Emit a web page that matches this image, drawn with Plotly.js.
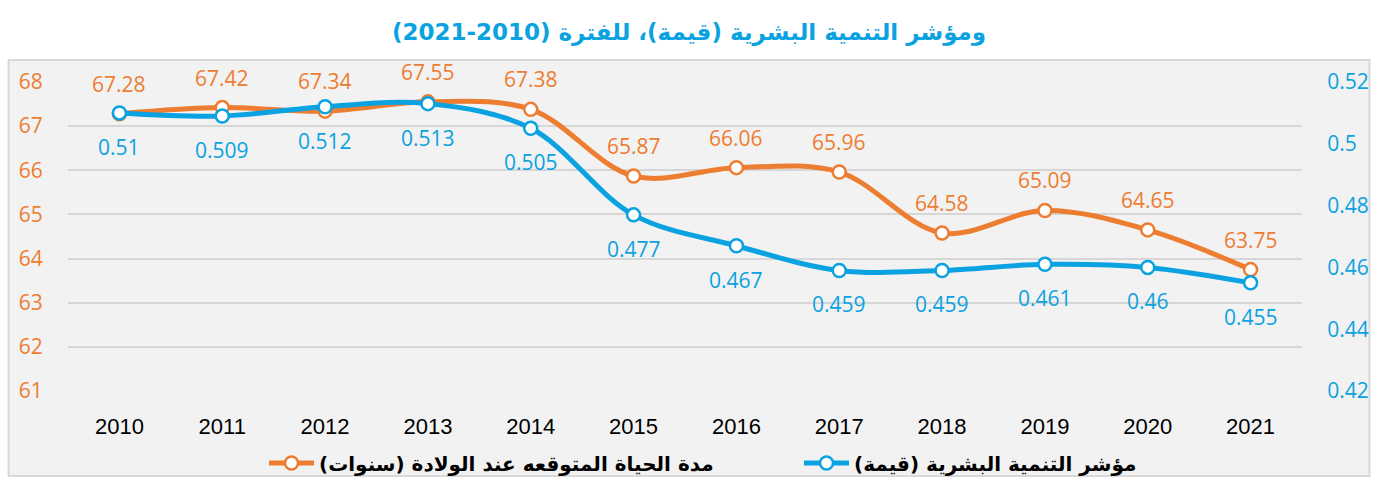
<!DOCTYPE html>
<html><head><meta charset="utf-8">
<script src="https://cdn.plot.ly/plotly-3.0.1.min.js"></script>
<style>html,body{margin:0;padding:0;background:#fff;}#chart{width:1378px;height:482px;}</style>
</head><body><div id="chart"></div>
<script>
const years = ['2010','2011','2012','2013','2014','2015','2016','2017','2018','2019','2020','2021'];
const lifeExpectancy = [67.28, 67.42, 67.34, 67.55, 67.38, 65.87, 66.06, 65.96, 64.58, 65.09, 64.65, 63.75];
const hdi = [0.51, 0.509, 0.512, 0.513, 0.505, 0.477, 0.467, 0.459, 0.459, 0.461, 0.46, 0.455];
const lifeName = 'مدة الحياة المتوقعه عند الولادة (سنوات)';
const hdiName = 'مؤشر التنمية البشرية (قيمة)';
const titleText = 'ومؤشر التنمية البشرية (قيمة)، للفترة (2010-2021)';

const ORANGE = '#ED7D31', BLUE = '#0AA2E0';
const numFont = 'Open Sans, Noto Sans, sans-serif';
const arFont = 'DejaVu Sans, sans-serif';

const traces = [
  {x: years, y: lifeExpectancy, name: lifeName, type: 'scatter', mode: 'lines+markers', yaxis: 'y', legend: 'legend',
   line: {color: ORANGE, width: 5, shape: 'spline', smoothing: 1},
   marker: {size: 13, color: '#fff', line: {color: ORANGE, width: 2.5}}},
  {x: years, y: hdi, name: hdiName, type: 'scatter', mode: 'lines+markers', yaxis: 'y2', legend: 'legend2',
   line: {color: BLUE, width: 5, shape: 'spline', smoothing: 1},
   marker: {size: 13, color: '#fff', line: {color: BLUE, width: 2.5}}}
];

const annotations = [];
years.forEach((yr, i) => {
  annotations.push({x: i, y: lifeExpectancy[i], xref: 'x', yref: 'y', text: String(lifeExpectancy[i]),
    showarrow: false, yshift: 30, font: {family: numFont, size: 21, color: ORANGE}});
  annotations.push({x: i, y: hdi[i], xref: 'x', yref: 'y2', text: String(hdi[i]),
    showarrow: false, yshift: -34, font: {family: numFont, size: 21, color: BLUE}});
});

const legendFont = {family: arFont, size: 20, color: '#000', weight: 'bold'};
const layout = {
  width: 1378, height: 482,
  margin: {l: 67.5, r: 75.5, t: 82, b: 91},
  paper_bgcolor: '#ffffff', plot_bgcolor: '#f2f2f2',
  title: {text: titleText, font: {family: arFont, size: 23, color: BLUE, weight: 'bold'},
          x: 0.5, xref: 'container', xanchor: 'center', y: 1 - 32/482, yanchor: 'middle'},
  xaxis: {type: 'category', range: [-0.5, 11.5], showgrid: false, zeroline: false, showline: false,
          ticks: 'outside', ticklen: 16, tickcolor: 'rgba(0,0,0,0)',
          tickfont: {family: 'Liberation Sans, Arial, sans-serif', size: 22, color: '#000'}},
  yaxis: {range: [61, 68], dtick: 1, showgrid: true, gridcolor: '#d6d6d6', gridwidth: 2, zeroline: false,
          ticks: 'outside', ticklen: 20, tickcolor: 'rgba(0,0,0,0)',
          tickfont: {family: numFont, size: 21, color: ORANGE}},
  yaxis2: {range: [0.42, 0.52], dtick: 0.02, overlaying: 'y', side: 'right', showgrid: false, zeroline: false,
           ticks: 'outside', ticklen: 20, tickcolor: 'rgba(0,0,0,0)',
           tickfont: {family: numFont, size: 21, color: BLUE}},
  showlegend: true,
  legend: {orientation: 'h', xref: 'container', yref: 'container', x: 264/1378, xanchor: 'left',
           y: 1 - 463/482, yanchor: 'middle', font: legendFont, bgcolor: 'rgba(0,0,0,0)', itemwidth: 45},
  legend2: {orientation: 'h', xref: 'container', yref: 'container', x: 799/1378, xanchor: 'left',
           y: 1 - 463/482, yanchor: 'middle', font: legendFont, bgcolor: 'rgba(0,0,0,0)', itemwidth: 45},
  shapes: [{type: 'rect', xref: 'paper', yref: 'paper', layer: 'below',
            x0: (8-67.5)/1235, x1: (1370-67.5)/1235, y0: (391-476)/309, y1: (391-60)/309,
            fillcolor: '#f2f2f2', line: {color: '#d9d9d9', width: 2}}],
  annotations: annotations
};

Plotly.newPlot('chart', traces, layout, {displayModeBar: false});
</script></body></html>
